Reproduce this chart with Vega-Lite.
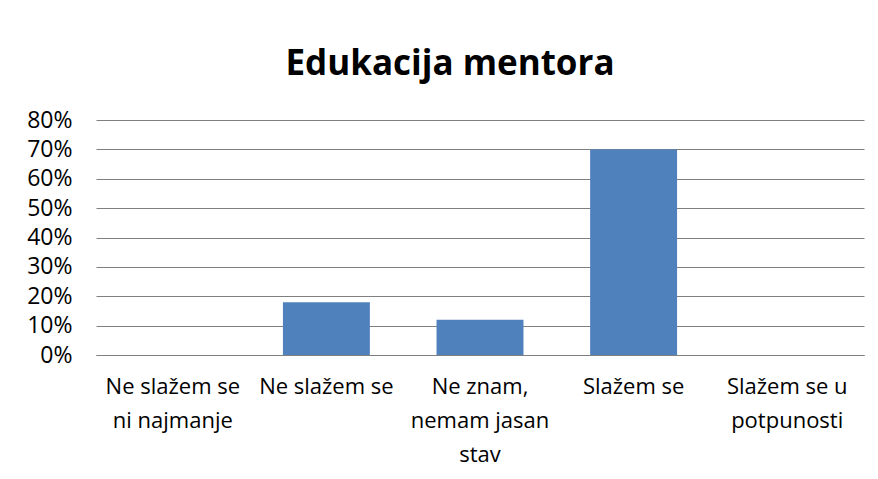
{
  "$schema": "https://vega.github.io/schema/vega-lite/v6.json",
  "autosize": "none",
  "width": 768,
  "height": 235,
  "padding": {"left": 96, "top": 120, "right": 14, "bottom": 124},
  "background": "white",
  "title": {
    "text": "Edukacija mentora",
    "font": "Open Sans",
    "fontSize": 35,
    "fontWeight": "bold",
    "color": "#000000",
    "anchor": "middle",
    "dx": -30,
    "offset": 27
  },
  "data": {
    "values": [
      {"kategorija": "Ne slažem se ni najmanje", "udio": 0},
      {"kategorija": "Ne slažem se", "udio": 0.18},
      {"kategorija": "Ne znam, nemam jasan stav", "udio": 0.12},
      {"kategorija": "Slažem se", "udio": 0.70},
      {"kategorija": "Slažem se u potpunosti", "udio": 0}
    ]
  },
  "mark": {"type": "bar", "color": "#4F81BD"},
  "encoding": {
    "x": {
      "field": "kategorija",
      "type": "nominal",
      "sort": null,
      "scale": {"paddingInner": 0.434, "paddingOuter": 0.217},
      "axis": {
        "title": null,
        "labelAngle": 0,
        "labelFont": "Open Sans",
        "labelFontSize": 22,
        "labelColor": "#000000",
        "labelPadding": 21,
        "labelLineHeight": 34,
        "labelLimit": 200,
        "ticks": false,
        "domain": true,
        "domainColor": "#7f7f7f",
        "domainWidth": 1,
        "labelExpr": "datum.value == 'Ne slažem se ni najmanje' ? ['Ne slažem se', 'ni najmanje'] : datum.value == 'Ne znam, nemam jasan stav' ? ['Ne znam,', 'nemam jasan', 'stav'] : datum.value == 'Slažem se u potpunosti' ? ['Slažem se u', 'potpunosti'] : datum.value"
      }
    },
    "y": {
      "field": "udio",
      "type": "quantitative",
      "scale": {"domain": [0, 0.8], "nice": false},
      "axis": {
        "title": null,
        "format": ".0%",
        "values": [0, 0.1, 0.2, 0.3, 0.4, 0.5, 0.6, 0.7, 0.8],
        "labelFont": "Open Sans",
        "labelFontSize": 23,
        "labelColor": "#000000",
        "labelPadding": 24,
        "ticks": false,
        "domain": false,
        "grid": true,
        "gridColor": "#7f7f7f",
        "gridWidth": 1
      }
    }
  },
  "config": {
    "view": {"stroke": null}
  }
}
